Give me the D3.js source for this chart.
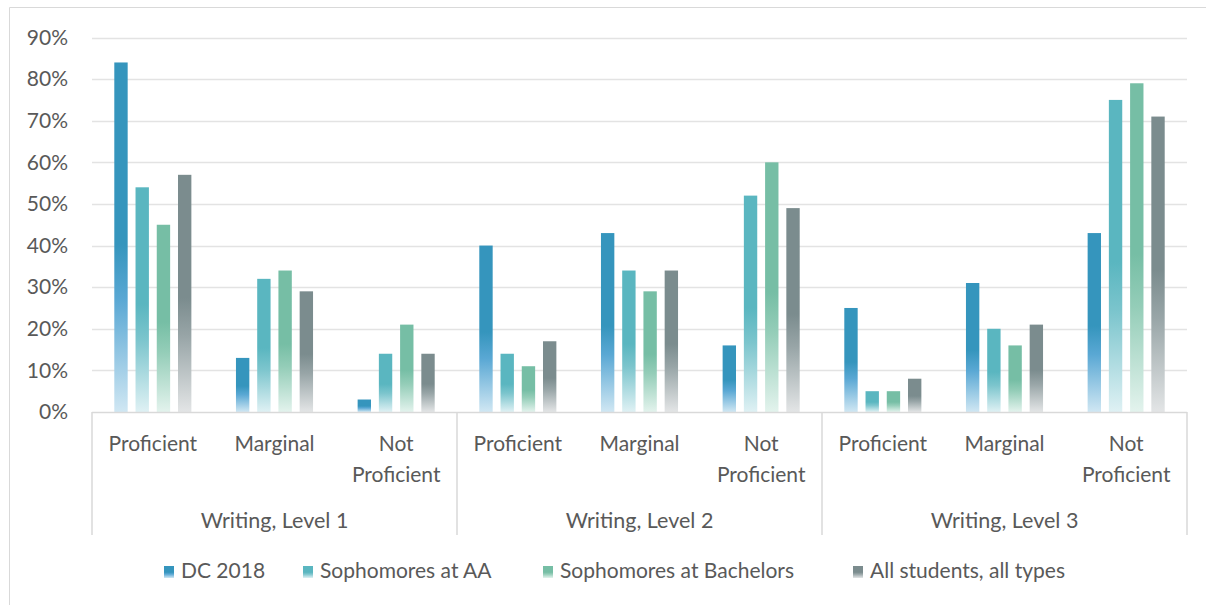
<!DOCTYPE html>
<html><head><meta charset="utf-8">
<script src="https://cdn.jsdelivr.net/npm/d3@7"></script>
<style>body{margin:0;background:#fff}svg{display:block}text{font-family:Lato,"Open Sans",sans-serif;fill:#595959}</style>
</head><body><svg id="c" width="1206" height="605"></svg>
<script>
const groups = ["Writing, Level 1","Writing, Level 2","Writing, Level 3"];
const levels = ["Proficient","Marginal","Not Proficient"];
const series = ["DC 2018","Sophomores at AA","Sophomores at Bachelors","All students, all types"];
const dc2018 =     [84,13,3, 40,43,16, 25,31,43];
const sophAA =     [54,32,14, 14,34,52, 5,20,75];
const sophBach =   [45,34,21, 11,29,60, 5,16,79];
const allStudents =[57,29,14, 17,34,49, 8,21,71];
const yTicks = [0,10,20,30,40,50,60,70,80,90];

const values = [dc2018, sophAA, sophBach, allStudents];
const colors = [["#3595bd","#5aa8d4","#d0e7f3"],["#5ab6c0","#7cc5cd","#dff1f4"],["#76bea5","#94cdb8","#e3f3ed"],["#7b8c8e","#98a5a7","#e3e5e6"]];

const svg = d3.select("#c");
const defs = svg.append("defs");
colors.forEach((c,i)=>{
  const g = defs.append("linearGradient").attr("id","g"+i).attr("x1",0).attr("y1",0).attr("x2",0).attr("y2",1);
  g.append("stop").attr("offset",0).attr("stop-color",c[0]);
  g.append("stop").attr("offset",0.52).attr("stop-color",c[0]);
  g.append("stop").attr("offset",0.68).attr("stop-color",c[1]);
  g.append("stop").attr("offset",1).attr("stop-color",c[2]);
});

// chart border
svg.append("path").attr("d","M9.5,606 V7.5 H1207").attr("fill","none").attr("stroke","#d9d9d9").attr("stroke-width",1);

const cats = [];
groups.forEach((g,gi)=>levels.forEach((l,li)=>cats.push({g,l,i:gi*3+li})));
const left=92, right=1187;
const x0 = d3.scaleBand().domain(cats.map(c=>c.i)).range([left,right]);
const x1 = d3.scaleBand().domain(series.map((s,i)=>i)).range([0,x0.bandwidth()]).paddingInner(0.37).paddingOuter(1.05);
const y = d3.scaleLinear().domain([0,90]).range([412,37.5]);

// grid
svg.append("g").selectAll("line").data(yTicks.filter(t=>t>0)).join("line")
  .attr("x1",left).attr("x2",right).attr("y1",d=>Math.round(y(d))+0.5).attr("y2",d=>Math.round(y(d))+0.5)
  .attr("stroke","#e3e3e3").attr("stroke-width",1.3);

// y axis labels
const ya = svg.append("g").attr("transform",`translate(${left},0)`).call(d3.axisLeft(y).tickValues(yTicks).tickFormat(d=>d+"%").tickSize(0).tickPadding(24));
ya.select(".domain").remove();
ya.selectAll("text").style("font-size","21px").style("font-family","Lato,sans-serif").attr("fill","#595959");

// bars
const bars = svg.append("g");
cats.forEach(c=>{
  bars.selectAll(null).data(series.map((s,si)=>({si,v:values[si][c.i]}))).join("rect")
    .attr("x",d=>x0(c.i)+x1(d.si)).attr("width",x1.bandwidth())
    .attr("y",d=>y(d.v)).attr("height",d=>y(0)-y(d.v))
    .attr("fill",d=>`url(#g${d.si})`);
});

// x axis line
svg.append("line").attr("x1",left).attr("x2",right).attr("y1",412.5).attr("y2",412.5).attr("stroke","#d9d9d9").attr("stroke-width",1.5);
// group separators
const gx = [0,3,6].map(i=>x0(i)).concat([right]);
svg.append("g").selectAll("line").data(gx).join("line")
  .attr("x1",d=>d).attr("x2",d=>d).attr("y1",412).attr("y2",535).attr("stroke","#d9d9d9").attr("stroke-width",1.5);

// sub labels
const sub = svg.append("g");
cats.forEach(c=>{
  const cx = x0(c.i)+x0.bandwidth()/2;
  const words = c.l==="Not Proficient"?["Not","Proficient"]:[c.l];
  words.forEach((w,wi)=>sub.append("text").attr("x",cx).attr("y",451+wi*30.5).attr("text-anchor","middle").style("font-size","21px").text(w));
});
// group labels
groups.forEach((g,gi)=>{
  svg.append("text").attr("x",(gx[gi]+gx[gi+1])/2).attr("y",528).attr("text-anchor","middle").style("font-size","21.5px").text(g);
});

// legend
const legX = [164,303,543,853];
series.forEach((s,i)=>{
  svg.append("rect").attr("x",legX[i]).attr("y",566).attr("width",10).attr("height",12).attr("fill",`url(#g${i})`);
  svg.append("text").attr("x",legX[i]+17).attr("y",578).style("font-size","21px").text(s);
});
</script></body></html>
